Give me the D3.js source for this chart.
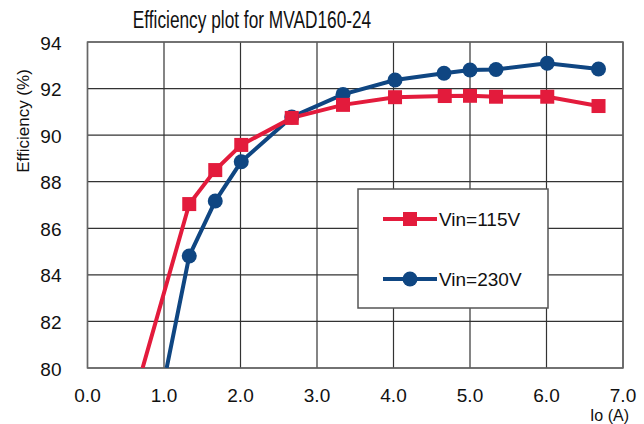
<!DOCTYPE html>
<html>
<head>
<meta charset="utf-8">
<script src="https://cdn.jsdelivr.net/npm/d3@7"></script>
<style>
  body { margin: 0; background: #fff; }
  text { font-family: "Liberation Sans", Arial, sans-serif; fill: #111; }
</style>
</head>
<body>
<script>
// values
const xTicks = [0, 1, 2, 3, 4, 5, 6, 7];
const yTicks = [80, 82, 84, 86, 88, 90, 92, 94];

const io115 = [0.72, 1.33, 1.67, 2.01, 2.67, 3.34, 4.02, 4.67, 5.0, 5.34, 6.01, 6.68];
const eff115 = [80.0, 87.04, 88.5, 89.58, 90.74, 91.3, 91.63, 91.68, 91.69, 91.65, 91.65, 91.25];

const io230 = [1.035, 1.33, 1.67, 2.01, 2.67, 3.34, 4.02, 4.66, 5.0, 5.34, 6.01, 6.68];
const eff230 = [80.0, 84.81, 87.17, 88.86, 90.78, 91.75, 92.37, 92.66, 92.8, 92.82, 93.09, 92.84];

const seriesNames = ['Vin=115V', 'Vin=230V'];

class EffChart {
    constructor(w, h) {
        this.width = w;
        this.height = h;
        this.margins = { top: 42, left: 87.5, right: 21, bottom: 56 };
        this.red = '#e31b3c';
        this.blue = '#0f4682';
    }

    render() {
        const m = this.margins;
        const iw = this.width - m.left - m.right;
        const ih = this.height - m.top - m.bottom;

        const svg = d3.select('body').append('svg')
            .attr('width', this.width)
            .attr('height', this.height);

        const x = d3.scaleLinear().domain([0, 7]).range([0, iw]);
        const y = d3.scaleLinear().domain([80, 94]).range([ih, 0]);

        // condensed look: squeeze the title horizontally
        svg.append('text')
            .attr('transform', 'translate(252,28) scale(0.72,1)')
            .attr('text-anchor', 'middle')
            .style('font-size', '24px')
            .text('Efficiency plot for MVAD160-24');

        const g = svg.append('g')
            .attr('transform', 'translate(' + m.left + ',' + m.top + ')');

        // grid
        g.selectAll('line.vgrid').data(xTicks).enter().append('line')
            .attr('class', 'vgrid')
            .attr('x1', d => x(d)).attr('x2', d => x(d))
            .attr('y1', 0).attr('y2', ih)
            .attr('stroke', '#333').attr('stroke-width', 1.2);
        g.selectAll('line.hgrid').data(yTicks).enter().append('line')
            .attr('class', 'hgrid')
            .attr('x1', 0).attr('x2', iw)
            .attr('y1', d => y(d)).attr('y2', d => y(d))
            .attr('stroke', '#333').attr('stroke-width', 1.2);
        g.append('rect')
            .attr('width', iw).attr('height', ih)
            .attr('fill', 'none').attr('stroke', '#666').attr('stroke-width', 1.5);

        // tick labels
        g.selectAll('text.ytick').data(yTicks).enter().append('text')
            .attr('class', 'ytick')
            .attr('x', -26).attr('y', d => y(d) + 7.5)
            .attr('text-anchor', 'end')
            .style('font-size', '19px')
            .text(d => d);
        g.selectAll('text.xtick').data(xTicks).enter().append('text')
            .attr('class', 'xtick')
            .attr('x', d => x(d)).attr('y', ih + 34)
            .attr('text-anchor', 'middle')
            .style('font-size', '19px')
            .text(d => d3.format('.1f')(d));

        svg.append('text')
            .attr('transform', 'translate(29,121) rotate(-90)')
            .attr('text-anchor', 'middle')
            .style('font-size', '17px')
            .text('Efficiency (%)');
        svg.append('text')
            .attr('x', 629).attr('y', 421)
            .attr('text-anchor', 'end')
            .style('font-size', '16px')
            .text('Io (A)');

        const plot = g.append('g');
        plot.append('clipPath').attr('id', 'clip')
            .append('rect').attr('width', iw).attr('height', ih);
        const lines = plot.append('g').attr('clip-path', 'url(#clip)');

        const line = d3.line().x(d => x(d[0])).y(d => y(d[1]));
        const d115 = d3.zip(io115, eff115);
        const d230 = d3.zip(io230, eff230);

        lines.append('path').datum(d230)
            .attr('d', line).attr('fill', 'none')
            .attr('stroke', this.blue).attr('stroke-width', 4);
        lines.append('path').datum(d115)
            .attr('d', line).attr('fill', 'none')
            .attr('stroke', this.red).attr('stroke-width', 4);

        // the first point of each series is where the curve leaves the chart, no marker
        plot.selectAll('circle.m230').data(d230.slice(1)).enter().append('circle')
            .attr('class', 'm230')
            .attr('cx', d => x(d[0])).attr('cy', d => y(d[1]))
            .attr('r', 7.5).attr('fill', this.blue);
        plot.selectAll('rect.m115').data(d115.slice(1)).enter().append('rect')
            .attr('class', 'm115')
            .attr('x', d => x(d[0]) - 7).attr('y', d => y(d[1]) - 7)
            .attr('width', 14).attr('height', 14).attr('fill', this.red);

        this.renderLegend(svg);
    }

    renderLegend(svg) {
        const lg = svg.append('g').attr('transform', 'translate(358,189)');
        lg.append('rect')
            .attr('width', 190).attr('height', 119)
            .attr('fill', '#fff').attr('stroke', '#555').attr('stroke-width', 1.5);
        const cols = [this.red, this.blue];
        seriesNames.forEach((name, i) => {
            const row = lg.append('g').attr('transform', 'translate(0,' + (30 + i * 60) + ')');
            row.append('line')
                .attr('x1', 25).attr('x2', 79)
                .attr('stroke', cols[i]).attr('stroke-width', 4);
            if (i === 0) {
                row.append('rect').attr('x', 45).attr('y', -7)
                    .attr('width', 14).attr('height', 14).attr('fill', cols[i]);
            } else {
                row.append('circle').attr('cx', 52).attr('r', 7.5).attr('fill', cols[i]);
            }
            row.append('text')
                .attr('x', 81).attr('y', 7)
                .style('font-size', '19px')
                .text(name);
        });
    }
}

new EffChart(644, 424).render();
</script>
</body>
</html>
